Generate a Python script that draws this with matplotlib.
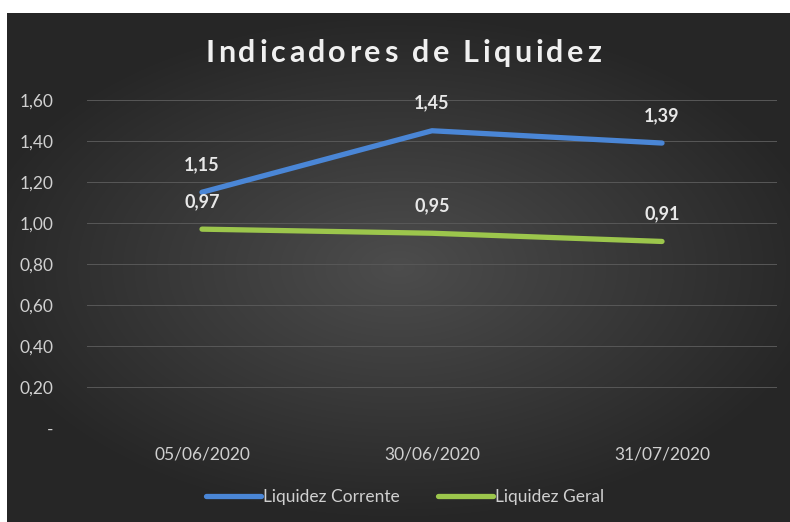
import numpy as np
import matplotlib
matplotlib.use("Agg")
import matplotlib.pyplot as plt
from matplotlib.ticker import FuncFormatter

plt.rcParams['font.family'] = ['Lato', 'DejaVu Sans']

# data
datas = ['05/06/2020', '30/06/2020', '31/07/2020']
liq_corrente = [1.15, 1.45, 1.39]
liq_geral = [0.97, 0.95, 0.91]
y_ticks = [0, 0.2, 0.4, 0.6, 0.8, 1.0, 1.2, 1.4, 1.6]

W, H = 790, 522
fig = plt.figure(figsize=(W / 100, H / 100), dpi=100)
fig.patch.set_facecolor('white')

# dark radial gradient background (chart area starts a few px in from top/left)
bg = fig.add_axes([7 / W, 0, 1 - 7 / W, 1 - 13 / H])
yy, xx = np.mgrid[-1:1:300j, -1:1:450j]
r = np.sqrt((xx / 1.1) ** 2 + (yy / 1.0) ** 2)
shade = np.clip(0.30 - 0.15 * r, 0.15, 0.30)
bg.imshow(np.dstack([shade] * 3), aspect='auto', extent=[0, 1, 0, 1],
          interpolation='bicubic')
bg.axis('off')

# plot area
x0, x1 = 87, 777
y_top, y_zero = 100, 428
ax = fig.add_axes([x0 / W, 1 - y_zero / H, (x1 - x0) / W, (y_zero - y_top) / H])
ax.set_facecolor('none')
x = np.arange(len(datas))
ax.set_xlim(-0.5, len(datas) - 0.5)
ax.set_ylim(0, 1.6)

for v in y_ticks:
    ax.axhline(v, color='#585858', lw=0.7, zorder=1)

ax.plot(x, liq_corrente, color='#4a86d6', lw=3.8, solid_capstyle='round',
        solid_joinstyle='round', zorder=3, label='Liquidez Corrente')
ax.plot(x, liq_geral, color='#9cc64c', lw=3.8, solid_capstyle='round',
        solid_joinstyle='round', zorder=3, label='Liquidez Geral')

def fmt(v):
    return f'{v:.2f}'.replace('.', ',')

for serie in (liq_corrente, liq_geral):
    for xi, v in zip(x, serie):
        ax.annotate(fmt(v), (xi, v), xytext=(0, 20), textcoords='offset points',
                    ha='center', va='center', color='#e8e8e8', fontsize=13,
                    fontweight='bold', zorder=4)

ax.set_yticks(y_ticks)
ax.yaxis.set_major_formatter(FuncFormatter(lambda v, p: '-' if v == 0 else fmt(v)))
ax.set_xticks(x)
ax.set_xticklabels(datas)
ax.tick_params(axis='both', length=0, colors='#d0d0d0', labelsize=12.5)
ax.tick_params(axis='y', pad=24)
ax.tick_params(axis='x', pad=13)
for s in ax.spines.values():
    s.set_visible(False)

# title with letter spacing, placed char by char
title = 'Indicadores de Liquidez'
renderer = fig.canvas.get_renderer()
tracking = 3.5
chars = []
for ch in title:
    t = fig.text(0, 1 - 53 / H, ch, ha='left', va='center', color='#f0f0f0',
                 fontsize=22, fontweight='bold')
    chars.append(t)
widths = []
for t in chars:
    bb = t.get_window_extent(renderer)
    w = bb.width if t.get_text() != ' ' else 7
    widths.append(w)
total = sum(widths) + tracking * (len(chars) - 1)
xpos = 403 - total / 2
for t, w in zip(chars, widths):
    t.set_x(xpos / W)
    xpos += w + tracking

leg = fig.legend(loc='center', bbox_to_anchor=(405 / W, 1 - 497 / H), ncol=2,
                 frameon=False, fontsize=12.5, handlelength=3.2,
                 handletextpad=0.1, columnspacing=2.2)
for t in leg.get_texts():
    t.set_color('#d0d0d0')

fig.savefig('out.png', dpi=100, facecolor=fig.get_facecolor())
